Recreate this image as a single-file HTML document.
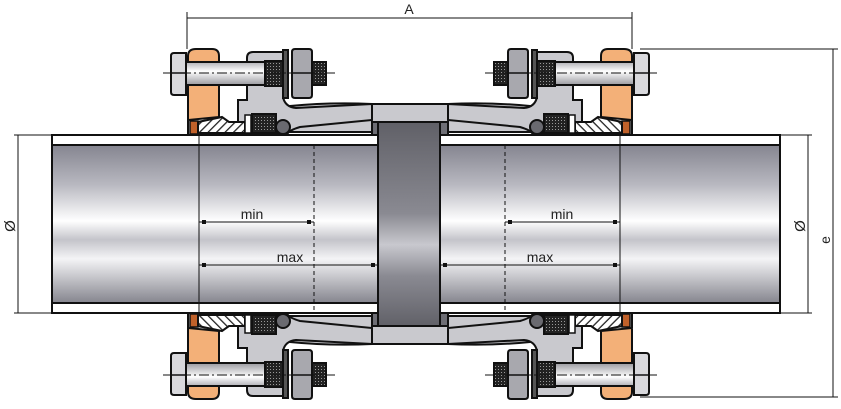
<!DOCTYPE html>
<html><head><meta charset="utf-8"><style>
html,body{margin:0;padding:0;background:#fff;width:841px;height:409px;overflow:hidden}
svg{display:block}
text{font-family:"Liberation Sans",sans-serif;fill:#222}
</style></head><body>
<svg width="841" height="409" viewBox="0 0 841 409" xmlns="http://www.w3.org/2000/svg">
<defs>
<linearGradient id="pipe" x1="0" y1="145" x2="0" y2="303" gradientUnits="userSpaceOnUse">
<stop offset="0" stop-color="#858590"/><stop offset="0.25" stop-color="#b8b8c0"/>
<stop offset="0.48" stop-color="#ffffff"/><stop offset="0.6" stop-color="#c4c4ca"/>
<stop offset="0.72" stop-color="#f4f4f6"/><stop offset="1" stop-color="#85858e"/>
</linearGradient>
<linearGradient id="post" x1="0" y1="120" x2="0" y2="328" gradientUnits="userSpaceOnUse">
<stop offset="0" stop-color="#5f5f66"/><stop offset="0.45" stop-color="#8a8a92"/>
<stop offset="0.6" stop-color="#c8c8ce"/><stop offset="0.75" stop-color="#8a8a92"/><stop offset="1" stop-color="#5f5f66"/>
</linearGradient>
<linearGradient id="shank" x1="0" y1="62" x2="0" y2="85" gradientUnits="userSpaceOnUse">
<stop offset="0" stop-color="#b0b0b6"/><stop offset="0.4" stop-color="#ffffff"/><stop offset="1" stop-color="#9a9aa0"/>
</linearGradient>
<pattern id="hatch" width="6" height="6" patternUnits="userSpaceOnUse" patternTransform="rotate(45)">
<rect width="6" height="6" fill="#fff"/><rect width="1.3" height="6" fill="#222"/>
</pattern>
<pattern id="knurl" width="3" height="3" patternUnits="userSpaceOnUse">
<rect width="3" height="3" fill="#222"/><rect width="1" height="1" fill="#999"/>
</pattern>
<g id="asm" stroke="#111" stroke-width="2">
<path d="M238,133 L238,100 L247,100 L247,58 Q247,52 253,52 L283,52 L283,97 Q285,107 296,108 L372,104 L372,120 L300,127 Q290,130 288,133 Z" fill="#c9c9ce"/>
<path d="M188,134 L188,56 Q188,49 196,49 L212,49 Q219,49 219,56 L219,117 L188,120 Z" fill="#f3b078"/>
<rect x="190" y="121" width="8" height="13" fill="#c0612a" stroke-width="1.5"/>
<path d="M198,133 L198,122 L222,117 L229,122 L245,122 L245,133 Z" fill="url(#hatch)"/>
<rect x="245" y="115" width="6" height="18" fill="#fff" stroke-width="1.5"/>
<rect x="252" y="114" width="24" height="19" fill="url(#knurl)"/>
<circle cx="283" cy="127" r="7" fill="#6a6a70"/>
<rect x="186" y="62" width="80" height="23" fill="url(#shank)"/>
<rect x="265" y="61" width="18" height="25" fill="url(#knurl)"/>
<path d="M174,53 L186,53 L186,95 L174,95 Q171,95 171,92 L171,56 Q171,53 174,53 Z" fill="#d8d8dc"/>
<line x1="171" y1="73" x2="186" y2="73" stroke-width="1.5"/>
<rect x="283" y="50" width="5" height="48" fill="#555"/>
<rect x="312" y="62" width="14" height="23" fill="url(#knurl)"/>
<path d="M295,49 L309,49 Q312,49 312,52 L312,95 Q312,98 309,98 L295,98 Q292,98 292,95 L292,52 Q292,49 295,49 Z" fill="#a8a8ae"/>
<line x1="292" y1="73" x2="312" y2="73" stroke-width="1.5"/>
<line x1="163" y1="73" x2="336" y2="73" stroke-width="1" stroke-dasharray="10,3,2,3"/>
</g>
</defs>

<path d="M290,106 Q330,102 372,104 L448,104 Q490,102 530,106 L530,132 L290,132 Z" fill="#c9c9ce" stroke="#111" stroke-width="2"/>
<path d="M290,342 Q330,346 372,344 L448,344 Q490,346 530,342 L530,316 L290,316 Z" fill="#c9c9ce" stroke="#111" stroke-width="2"/>

<use href="#asm"/>
<use href="#asm" transform="translate(820,0) scale(-1,1)"/>
<use href="#asm" transform="translate(0,448) scale(1,-1)"/>
<use href="#asm" transform="translate(820,448) scale(-1,-1)"/>

<rect x="372" y="122" width="76" height="14" fill="#6e6e75" stroke="#111" stroke-width="2"/>
<rect x="372" y="312" width="76" height="14" fill="#6e6e75" stroke="#111" stroke-width="2"/>
<rect x="378" y="122" width="62" height="204" fill="url(#post)" stroke="#111" stroke-width="2"/>

<g stroke="#111" stroke-width="2">
<rect x="52" y="135" width="326" height="178" fill="url(#pipe)"/>
<rect x="52" y="135" width="326" height="10" fill="#fff"/>
<rect x="52" y="303" width="326" height="10" fill="#fff"/>
<rect x="440" y="135" width="340" height="178" fill="url(#pipe)"/>
<rect x="440" y="135" width="340" height="10" fill="#fff"/>
<rect x="440" y="303" width="340" height="10" fill="#fff"/>
</g>

<g stroke="#111" stroke-width="1" fill="none">
<line x1="187" y1="18" x2="632" y2="18"/>
<line x1="187" y1="12" x2="187" y2="49"/>
<line x1="632" y1="12" x2="632" y2="49"/>
<line x1="640" y1="49" x2="838" y2="49"/>
<line x1="640" y1="397" x2="838" y2="397"/>
<line x1="833" y1="49" x2="833" y2="397"/>
<line x1="780" y1="135" x2="812" y2="135"/>
<line x1="780" y1="313" x2="812" y2="313"/>
<line x1="808" y1="135" x2="808" y2="313"/>
<line x1="14" y1="135" x2="52" y2="135"/>
<line x1="14" y1="313" x2="52" y2="313"/>
<line x1="18" y1="135" x2="18" y2="313"/>
<line x1="199" y1="133" x2="199" y2="313"/>
<line x1="620" y1="133" x2="620" y2="313"/>
<line x1="314" y1="145" x2="314" y2="313" stroke-dasharray="4,3"/>
<line x1="505" y1="145" x2="505" y2="313" stroke-dasharray="4,3"/>
<line x1="199" y1="222" x2="314" y2="222"/>
<line x1="199" y1="265" x2="378" y2="265"/>
<line x1="505" y1="222" x2="620" y2="222"/>
<line x1="440" y1="265" x2="620" y2="265"/>
</g>
<g fill="#111">
<rect x="202" y="220" width="4" height="4"/><rect x="307" y="220" width="4" height="4"/>
<rect x="202" y="263" width="4" height="4"/><rect x="371" y="263" width="4" height="4"/>
<rect x="508" y="220" width="4" height="4"/><rect x="613" y="220" width="4" height="4"/>
<rect x="443" y="263" width="4" height="4"/><rect x="613" y="263" width="4" height="4"/>
</g>
<text x="409" y="14" font-size="14" text-anchor="middle">A</text>
<text x="252" y="219" font-size="14" text-anchor="middle">min</text>
<text x="290" y="262" font-size="14" text-anchor="middle">max</text>
<text x="562" y="219" font-size="14" text-anchor="middle">min</text>
<text x="540" y="262" font-size="14" text-anchor="middle">max</text>
<text x="0" y="0" font-size="15" text-anchor="middle" transform="translate(15,226) rotate(-90)">Ø</text>
<text x="0" y="0" font-size="15" text-anchor="middle" transform="translate(805,226) rotate(-90)">Ø</text>
<text x="0" y="0" font-size="14" text-anchor="middle" transform="translate(830,240) rotate(-90)">e</text>
</svg>
</body></html>
